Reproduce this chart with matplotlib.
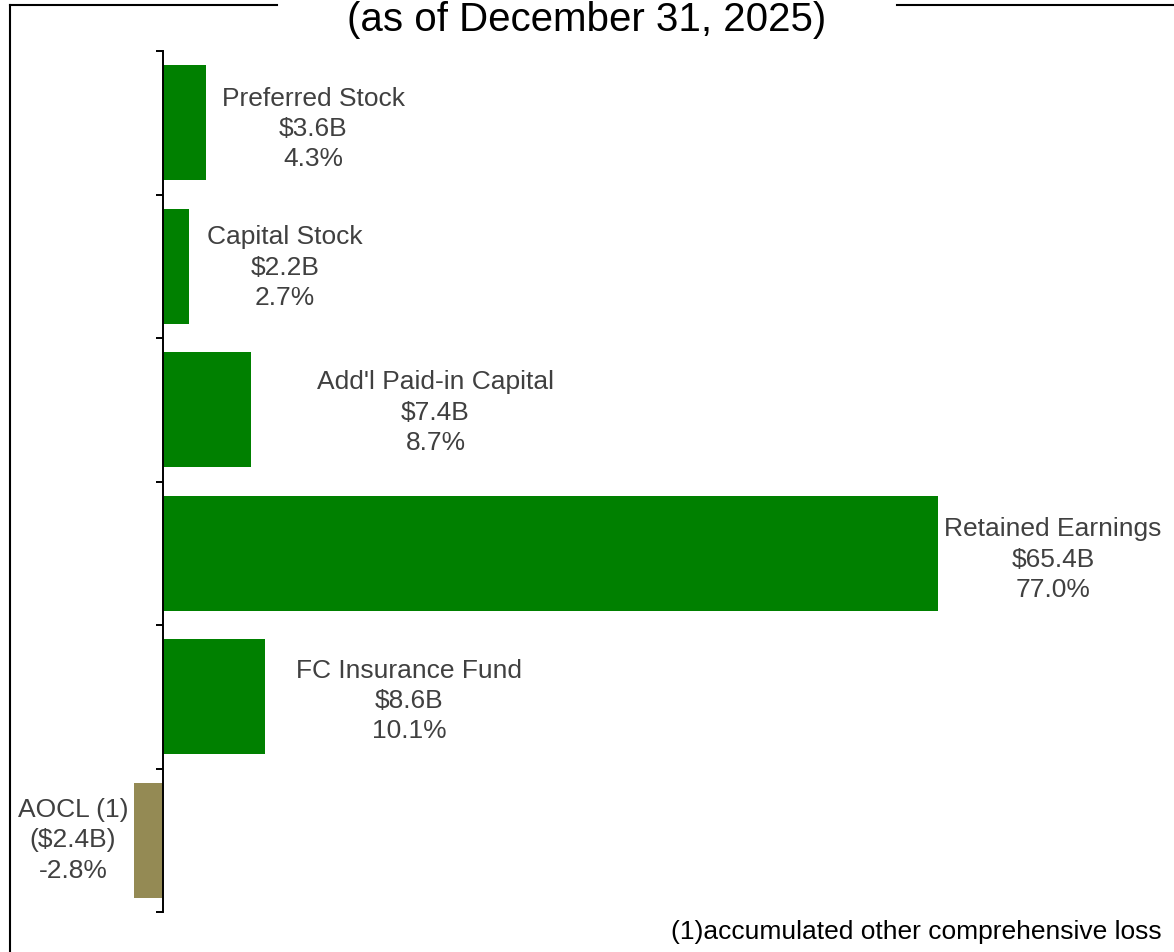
import matplotlib
matplotlib.use("Agg")
import matplotlib.pyplot as plt
from matplotlib.lines import Line2D

# Data
categories = ["Preferred Stock", "Capital Stock", "Add'l Paid-in Capital",
              "Retained Earnings", "FC Insurance Fund", "AOCL (1)"]
values = [3.6, 2.2, 7.4, 65.4, 8.6, -2.4]
value_labels = ["$3.6B", "$2.2B", "$7.4B", "$65.4B", "$8.6B", "($2.4B)"]
pct_labels = ["4.3%", "2.7%", "8.7%", "77.0%", "10.1%", "-2.8%"]
colors = ["#008000"] * 5 + ["#948A54"]

title = "(as of December 31, 2025)"
footnote = "(1)accumulated other comprehensive loss"

plt.rcParams['font.family'] = ['Liberation Sans', 'DejaVu Sans']

W, H = 1174, 952
fig = plt.figure(figsize=(W / 100, H / 100), dpi=100)
ax = fig.add_axes([10 / W, 40 / H, 1164 / W, 861 / H])

y = list(range(len(categories)))
ax.barh(y, values, height=0.8, color=colors)

ax.set_ylim(len(categories) - 0.5, -0.5)
ax.set_xlim(-12.9, 85.3)

for s in ['top', 'right', 'bottom']:
    ax.spines[s].set_visible(False)
ax.spines['left'].set_position(('data', 0))
ax.spines['left'].set_linewidth(1.4)
ax.set_xticks([])
ax.set_yticks([i - 0.5 for i in range(len(categories) + 1)])
ax.set_yticklabels([])
ax.tick_params(axis='y', direction='out', length=5, width=1.4)

# label positions (data units), placed by hand like the original
label_x = [12.7, 10.3, 23.0, 75.1, 20.8, -7.6]
label_dy = [0.045, 0.01, 0.02, 0.045, 0.03, 0.0]
for i in y:
    txt = categories[i] + "\n" + value_labels[i] + "\n" + pct_labels[i]
    ax.text(label_x[i], i + label_dy[i], txt, ha='center', va='center',
            fontsize=19, color='#404040', linespacing=1.33)

# title in the frame
fig.text(587 / W, 1 - 20 / H, title, ha='center', va='center', fontsize=29,
         color='black')
fig.text(1162 / W, 1 - 932 / H, footnote, ha='right', va='center',
         fontsize=19, color='black')

# frame lines
lw = 1.5
fig.add_artist(Line2D([10 / W, 10 / W], [0, 1 - 5 / H], color='black', lw=lw))
fig.add_artist(Line2D([10 / W, 277 / W], [1 - 5 / H, 1 - 5 / H], color='black', lw=lw))
fig.add_artist(Line2D([897 / W, 1], [1 - 5 / H, 1 - 5 / H], color='black', lw=lw))

fig.savefig("out.png", dpi=100)
